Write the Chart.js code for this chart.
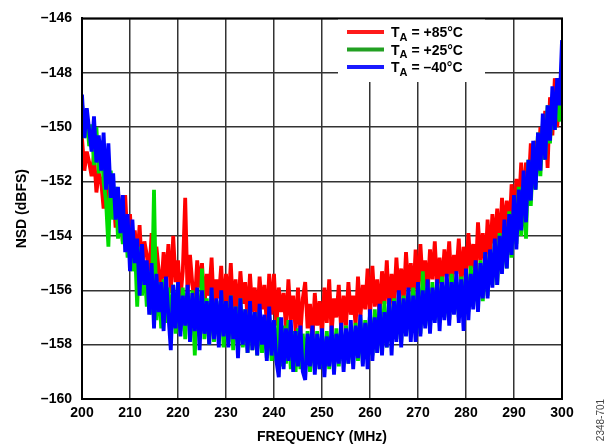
<!DOCTYPE html>
<html>
<head>
<meta charset="utf-8">
<script src="https://cdn.jsdelivr.net/npm/chart.js@4.4.1/dist/chart.umd.min.js"></script>
<style>
html,body{margin:0;padding:0;background:#fff;}
#wrap{width:610px;height:446px;position:relative;}
</style>
</head>
<body>
<div id="wrap"><canvas id="c" width="610" height="446"></canvas></div>
<script>
// Frequency grid (MHz): 0.5 MHz spacing from 200 to 300
const freqs = Array.from({length: 201}, (_, i) => 200 + i * 0.5);

const xTicks = [200, 210, 220, 230, 240, 250, 260, 270, 280, 290, 300];
const yTicks = [-160, -158, -156, -154, -152, -150, -148, -146];

const seriesLabels = ["+85°C", "+25°C", "–40°C"];

// NSD (dBFS), T_A = +85°C  (one row = 5 MHz)
const nsd85 = [
-150.4,-151.6,-150.9,-151.3,-151.8,-151.0,-152.4,-151.7,-152.0,-153.0,
-152.0,-152.6,-153.3,-152.3,-153.7,-152.4,-153.2,-154.2,-152.5,-154.3,
-153.2,-154.6,-153.8,-154.9,-153.6,-155.3,-154.2,-154.7,-155.5,-153.9,
-155.9,-154.4,-155.3,-156.0,-154.6,-155.6,-154.3,-156.1,-154.0,-155.7,
-154.9,-156.3,-155.3,-152.6,-156.2,-154.7,-155.8,-156.5,-154.9,-155.9,
-155.0,-156.6,-155.4,-156.2,-154.8,-156.8,-155.6,-156.3,-155.1,-156.9,
-155.4,-156.6,-155.0,-156.9,-155.6,-157.0,-155.3,-156.5,-155.7,-157.1,
-155.4,-156.8,-155.9,-157.2,-155.5,-156.7,-155.8,-157.3,-155.4,-156.9,
-155.4,-157.3,-155.9,-156.8,-156.1,-157.4,-155.6,-157.1,-156.2,-157.5,
-155.9,-157.6,-156.3,-155.7,-157.4,-156.5,-157.9,-156.1,-157.3,-156.4,
-157.7,-155.9,-157.2,-155.6,-157.6,-156.3,-157.0,-155.8,-157.5,-156.2,
-157.3,-155.7,-156.9,-156.2,-157.3,-155.5,-157.0,-155.8,-156.7,-155.2,
-157.0,-155.1,-156.6,-155.6,-157.0,-155.3,-156.5,-154.9,-156.8,-155.4,
-156.6,-154.8,-156.2,-155.2,-156.5,-154.6,-156.0,-155.0,-156.4,-154.5,
-156.2,-154.3,-155.8,-154.9,-156.1,-154.5,-155.6,-154.2,-156.0,-154.8,
-155.9,-154.5,-155.5,-154.2,-155.9,-154.7,-155.4,-154.1,-155.8,-154.4,
-155.6,-153.9,-155.2,-154.3,-155.5,-153.5,-154.9,-153.9,-155.2,-153.4,
-154.8,-153.2,-154.3,-153.0,-154.5,-152.6,-153.8,-152.7,-154.0,-152.1,
-153.5,-151.9,-153.0,-151.3,-152.9,-151.3,-152.3,-150.6,-152.1,-150.5,
-151.6,-150.0,-151.0,-149.4,-151.5,-148.9,-150.3,-148.2,-150.0,-148.8,
-148.3
];

// NSD (dBFS), T_A = +25°C
const nsd25 = [
-149.1,-150.4,-149.6,-150.7,-149.9,-151.4,-150.0,-151.7,-150.5,-152.0,
-152.7,-154.4,-151.6,-153.4,-152.2,-154.1,-152.9,-154.3,-153.4,-154.8,
-153.8,-155.3,-154.2,-156.6,-154.4,-156.2,-155.0,-156.6,-155.3,-156.9,
-152.3,-157.1,-155.7,-157.4,-155.6,-157.2,-155.9,-157.5,-155.8,-157.6,
-156.0,-157.5,-155.9,-157.8,-156.1,-157.4,-156.0,-158.4,-156.2,-157.7,
-155.2,-157.8,-156.3,-158.0,-156.0,-157.9,-156.4,-157.7,-156.1,-158.1,
-156.5,-157.9,-156.2,-158.2,-156.6,-158.0,-156.3,-158.1,-156.7,-158.3,
-156.6,-158.2,-156.8,-158.4,-156.7,-158.3,-157.0,-158.5,-156.9,-158.6,
-157.2,-158.6,-157.0,-158.8,-157.3,-158.7,-157.1,-158.9,-157.5,-159.0,
-157.4,-158.9,-157.6,-158.7,-157.5,-159.0,-157.7,-158.8,-157.5,-158.9,
-157.7,-158.8,-157.5,-158.9,-157.7,-158.7,-157.4,-158.8,-157.6,-158.6,
-157.3,-158.7,-157.5,-158.5,-157.2,-158.6,-157.0,-158.7,-157.1,-158.5,
-156.9,-158.4,-156.7,-158.3,-156.6,-158.2,-156.4,-158.1,-156.5,-157.9,
-156.3,-157.8,-156.1,-157.9,-156.2,-157.6,-156.0,-157.7,-155.9,-157.5,
-155.8,-157.6,-155.3,-157.3,-155.9,-157.4,-155.7,-157.1,-155.8,-157.2,
-155.5,-157.0,-155.8,-157.1,-155.4,-156.8,-155.7,-157.0,-155.5,-156.9,
-155.3,-156.8,-155.1,-156.6,-155.2,-156.5,-154.9,-156.4,-154.6,-156.2,
-154.6,-155.8,-154.2,-155.8,-153.9,-155.3,-153.7,-155.2,-153.1,-154.8,
-152.9,-154.3,-152.2,-154.0,-152.0,-154.1,-151.2,-152.9,-150.9,-152.3,
-150.2,-151.8,-149.9,-151.2,-149.2,-150.6,-148.9,-150.1,-148.4,-149.8,
-147.5
];

// NSD (dBFS), T_A = -40°C
const nsdM40 = [
-148.8,-150.4,-149.3,-150.1,-150.9,-149.6,-151.3,-150.3,-151.6,-150.2,
-152.3,-150.6,-152.6,-151.7,-153.4,-152.2,-153.9,-152.5,-154.6,-153.2,
-155.3,-153.4,-155.0,-154.1,-156.2,-154.3,-155.8,-154.9,-156.9,-155.0,
-157.4,-155.4,-156.8,-155.7,-157.5,-155.5,-156.9,-158.2,-155.8,-157.4,
-155.7,-157.7,-156.2,-157.3,-155.8,-157.9,-156.1,-157.5,-155.9,-158.2,
-156.0,-157.6,-156.4,-158.0,-155.9,-157.8,-156.3,-158.1,-156.0,-157.7,
-156.4,-158.1,-156.2,-157.8,-156.6,-158.5,-156.3,-158.0,-156.7,-158.3,
-156.4,-158.2,-156.8,-158.4,-156.5,-158.0,-156.9,-158.6,-156.6,-158.4,
-157.1,-158.6,-159.2,-157.0,-158.9,-157.4,-158.6,-157.1,-159.0,-157.5,
-158.8,-157.3,-159.0,-159.3,-157.6,-158.8,-157.3,-159.1,-157.6,-158.9,
-157.4,-159.2,-157.7,-158.8,-157.3,-159.1,-157.6,-158.7,-157.2,-159.0,
-157.4,-158.7,-157.1,-158.9,-157.3,-158.5,-156.9,-158.8,-157.2,-158.9,
-156.7,-158.6,-157.0,-158.3,-156.5,-158.4,-156.8,-158.1,-156.3,-158.4,
-156.4,-157.9,-156.0,-158.1,-156.3,-157.7,-155.9,-157.9,-156.2,-157.9,
-155.7,-157.7,-156.0,-157.4,-155.6,-157.6,-155.9,-157.2,-155.6,-157.5,
-155.7,-157.1,-155.4,-157.3,-155.7,-156.9,-155.3,-157.2,-155.6,-157.5,
-155.2,-157.1,-155.4,-156.7,-154.9,-156.8,-155.0,-156.3,-154.6,-156.3,
-154.5,-155.9,-154.1,-155.8,-154.0,-155.4,-153.4,-155.2,-153.2,-154.7,
-152.5,-154.5,-152.3,-153.8,-151.6,-153.5,-151.2,-152.7,-150.5,-152.3,
-150.2,-151.6,-149.5,-151.2,-149.2,-150.5,-148.5,-150.1,-148.2,-149.2,
-146.8
];

const FONT = 'Arial, "Liberation Sans", Helvetica, sans-serif';
const colors = { red: '#ff0000', green: '#00dd00', blue: '#0000ff' };
const legendColors = ['#ff1a1a', '#22a022', '#1a1aff'];

function pts(arr) { return arr.map((v, i) => ({x: freqs[i], y: v})); }

const fmt = v => (v < 0 ? '\u2013' : '') + Math.abs(v);

const frameAndLegend = {
  id: 'frameAndLegend',
  afterDatasetsDraw(chart) {
    const {ctx, chartArea: a} = chart;
    ctx.save();
    ctx.fillStyle = '#ffffff';
    ctx.fillRect(338, 17, 147, 65);
    const ys = [32, 49.5, 67];
    for (let i = 0; i < 3; i++) {
      ctx.strokeStyle = legendColors[i];
      ctx.lineWidth = 4;
      ctx.lineCap = 'butt';
      ctx.beginPath();
      ctx.moveTo(347, ys[i]);
      ctx.lineTo(384, ys[i]);
      ctx.stroke();
      ctx.fillStyle = '#000';
      ctx.textBaseline = 'alphabetic';
      ctx.textAlign = 'left';
      ctx.font = 'bold 14px ' + FONT;
      ctx.fillText('T', 391, ys[i] + 5);
      const tw = ctx.measureText('T').width;
      ctx.font = 'bold 11px ' + FONT;
      ctx.fillText('A', 391 + tw, ys[i] + 8.5);
      const aw = ctx.measureText('A').width;
      ctx.font = 'bold 14px ' + FONT;
      ctx.fillText(' = ' + seriesLabels[i], 391 + tw + aw, ys[i] + 5);
    }
    ctx.strokeStyle = '#000';
    ctx.lineWidth = 2;
    ctx.strokeRect(a.left, a.top, a.right - a.left, a.bottom - a.top);
    ctx.translate(601, 420);
    ctx.rotate(-Math.PI / 2);
    ctx.font = '10px ' + FONT;
    ctx.fillStyle = '#444';
    ctx.textAlign = 'center';
    ctx.textBaseline = 'middle';
    ctx.fillText('2348-701', 0, 0);
    ctx.restore();
  }
};

new Chart(document.getElementById('c'), {
  type: 'line',
  data: {
    datasets: [
      { label: seriesLabels[0], data: pts(nsd85), borderColor: colors.red, order: 3 },
      { label: seriesLabels[1], data: pts(nsd25), borderColor: colors.green, order: 2 },
      { label: seriesLabels[2], data: pts(nsdM40), borderColor: colors.blue, order: 1 }
    ]
  },
  options: {
    responsive: false,
    animation: false,
    events: [],
    layout: { padding: { left: 0, right: 48, top: 16, bottom: 0 } },
    elements: {
      point: { radius: 0 },
      line: { borderWidth: 3.8, tension: 0, borderJoinStyle: 'bevel', borderCapStyle: 'butt' }
    },
    plugins: { legend: { display: false }, tooltip: { enabled: false } },
    scales: {
      x: {
        type: 'linear', min: 200, max: 300,
        afterBuildTicks: s => { s.ticks = xTicks.map(v => ({value: v})); },
        afterFit: s => { s.height = 47; },
        ticks: { color: '#000', font: { family: FONT, size: 14, weight: 'bold' }, padding: 6, maxRotation: 0, callback: v => String(v) },
        grid: { color: '#333', lineWidth: 1.5, drawTicks: false },
        border: { display: true, color: '#000', width: 2 },
        title: { display: true, text: 'FREQUENCY (MHz)', color: '#000', font: { family: FONT, size: 14, weight: 'bold' }, padding: { top: 0, bottom: 0 } }
      },
      y: {
        type: 'linear', min: -160, max: -146,
        afterBuildTicks: s => { s.ticks = yTicks.map(v => ({value: v})); },
        afterFit: s => { s.width = 82; },
        ticks: { color: '#000', font: { family: FONT, size: 14, weight: 'bold' }, padding: 10, callback: v => fmt(v) },
        grid: { color: '#333', lineWidth: 1.5, drawTicks: false },
        border: { display: true, color: '#000', width: 2 },
        title: { display: true, text: 'NSD (dBFS)', color: '#000', font: { family: FONT, size: 14, weight: 'bold' }, padding: { top: 14, bottom: 0 } }
      }
    }
  },
  plugins: [frameAndLegend]
});
</script>
</body>
</html>
